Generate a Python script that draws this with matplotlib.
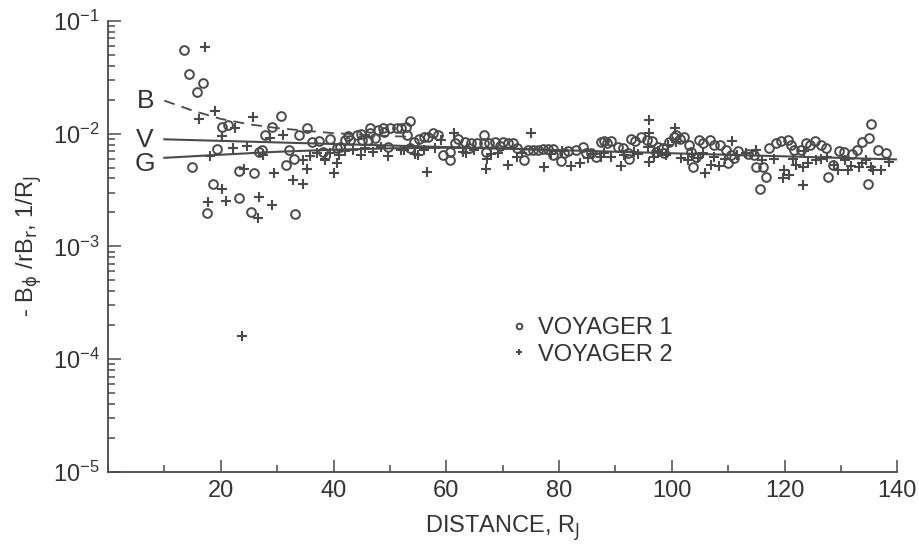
import matplotlib
matplotlib.use("Agg")
import matplotlib.pyplot as plt
from matplotlib.ticker import LogLocator, MultipleLocator, NullFormatter, FixedLocator

plt.rcParams["font.family"] = ["Liberation Sans", "DejaVu Sans"]

INK = "#4a4a4a"

# ---- Voyager 1 (open circles): distance R_J, -B_phi / r B_r ----
v1_x = [13.5, 14.4, 16.9, 15.8, 20.2, 21.3, 19.4, 14.9, 23.3, 25.9, 18.7, 23.3, 17.6, 25.4,
        33.2, 26.8, 27.9, 30.6, 29.1, 32.1, 31.6, 33.9, 35.3, 33.0, 36.2, 37.5, 39.3, 44.2,
        46.4, 48.8, 50.1, 51.2, 27.4, 41.2, 42.1, 43.0, 45.1, 46.2, 47.4, 38.2, 40.7, 46.5,
        52.8, 53.5, 53.1, 54.2, 55.1, 56.0, 56.8, 57.7, 59.5, 60.7, 60.7, 53.6, 62.0, 63.4,
        64.3, 65.5, 66.6, 66.6, 67.5, 68.7, 67.0, 70.0, 71.0, 49.6, 71.9, 73.7, 75.3, 76.2,
        77.1, 78.0, 78.9, 79.0, 80.3, 80.8, 84.2, 84.7, 85.6, 86.5, 87.4, 87.9, 89.2, 90.4,
        91.3, 92.2, 92.4, 92.7, 94.5, 95.6, 96.4, 97.5, 98.4, 98.6, 100.4, 100.7, 102.1,
        103.0, 103.4, 103.7, 104.8, 106.7, 108.5, 109.6, 110.5, 109.9, 111.0, 114.6, 114.9,
        116.7, 115.6, 117.2, 119.4, 120.6, 121.1, 121.7, 122.9, 123.8, 125.4, 126.5, 127.4,
        127.7, 128.6, 129.7, 132.0, 132.9, 133.7, 135.0, 135.3, 134.8, 138.0, 116.2, 97.2,
        104.3, 42.5, 44.8, 47.8, 49.0, 52.0, 58.5, 61.5, 64.0, 69.5, 72.5, 74.5, 81.5, 83.0,
        88.5, 93.5, 99.5, 101.5, 105.5, 107.5, 111.8, 113.5, 118.5, 124.5, 130.5, 136.5]
v1_y = [0.0553, 0.0340, 0.0282, 0.0236, 0.0115, 0.0118, 0.00736, 0.00511, 0.0047, 0.00443,
        0.00354, 0.00266, 0.00196, 0.0020, 0.00192, 0.00693, 0.0098, 0.0144, 0.0115, 0.00722,
        0.00532, 0.0098, 0.0113, 0.00601, 0.00849, 0.00867, 0.0090, 0.0098, 0.0111, 0.0113,
        0.0113, 0.0113, 0.00722, 0.00767, 0.00885, 0.00885, 0.00885, 0.00885, 0.0092,
        0.00693, 0.00752, 0.0102, 0.0115, 0.0130, 0.0098, 0.00849, 0.0090, 0.0094, 0.0094,
        0.0102, 0.00652, 0.00693, 0.00589, 0.00752, 0.0090, 0.00849, 0.00832, 0.00832,
        0.0098, 0.00832, 0.00832, 0.00849, 0.00693, 0.00849, 0.00832, 0.00767, 0.00832,
        0.00589, 0.00722, 0.00722, 0.00736, 0.00736, 0.00736, 0.00652, 0.00577, 0.00679,
        0.00767, 0.00679, 0.00679, 0.00625, 0.00849, 0.00867, 0.00867, 0.00767, 0.00752,
        0.00679, 0.00601, 0.0090, 0.0094, 0.00885, 0.00867, 0.00767, 0.00752, 0.00679,
        0.0094, 0.0098, 0.0094, 0.00799, 0.00693, 0.00511, 0.00885, 0.00885, 0.00799,
        0.00722, 0.00652, 0.00554, 0.00613, 0.00652, 0.00511, 0.00416, 0.00326, 0.00752,
        0.00867, 0.00885, 0.00799, 0.00722, 0.00722, 0.00832, 0.00867, 0.00799, 0.00752,
        0.00416, 0.00532, 0.00708, 0.00665, 0.00722, 0.00849, 0.0092, 0.0122, 0.00361,
        0.00679, 0.00511, 0.00693, 0.00625, 0.0096, 0.0100, 0.0108, 0.0104, 0.0112, 0.0097,
        0.0082, 0.0075, 0.0078, 0.0074, 0.0071, 0.0070, 0.0072, 0.0082, 0.0086, 0.0085,
        0.0090, 0.0082, 0.0079, 0.0070, 0.0066, 0.0082, 0.0080, 0.0069, 0.0071]

# ---- Voyager 2 (plus signs) ----
v2_x = [17.2, 16.2, 19.0, 20.2, 22.6, 22.2, 24.7, 25.8, 18.1, 24.2, 20.2, 17.8, 21.0, 26.8,
        29.1, 26.6, 23.8, 27.5, 29.5, 31.1, 32.9, 34.5, 35.3, 34.5, 37.1, 38.4, 40.1, 40.7,
        39.4, 41.0, 49.6, 28.8, 35.9, 38.5, 43.5, 44.8, 51.9, 54.9, 56.5, 61.3, 59.0, 62.9,
        67.3, 67.0, 69.1, 70.9, 75.0, 72.6, 77.3, 82.1, 83.7, 85.1, 87.4, 89.2, 90.9, 93.3,
        95.9, 95.9, 95.9, 100.5, 99.3, 95.7, 100.7, 96.8, 101.6, 102.8, 104.6, 105.5, 105.9,
        106.9, 108.3, 110.7, 113.1, 114.9, 118.1, 119.9, 119.7, 120.8, 122.0, 123.3, 123.4,
        124.2, 123.3, 126.5, 128.8, 129.5, 131.3, 131.8, 133.2, 135.3, 135.7, 137.1, 133.7,
        130.7, 54.5, 42.0, 45.5, 47.0, 48.5, 52.5, 56.0, 58.0, 63.5, 65.0, 68.0, 73.5, 78.5,
        80.5, 86.0, 88.0, 91.5, 94.0, 97.5, 99.0, 103.5, 107.5, 109.5, 111.5, 116.0, 121.5,
        125.5, 127.5, 134.5, 138.5]
v2_y = [0.0589, 0.0136, 0.0160, 0.0096, 0.0113, 0.00752, 0.00783, 0.0139, 0.00638, 0.0049,
        0.00326, 0.0025, 0.00255, 0.00272, 0.00235, 0.00177, 0.00016, 0.00652, 0.00443,
        0.0098, 0.00384, 0.00361, 0.0049, 0.00589, 0.00679, 0.00601, 0.00443, 0.00554,
        0.00679, 0.00652, 0.00638, 0.0092, 0.00638, 0.00589, 0.00722, 0.00652, 0.00722,
        0.00652, 0.00461, 0.0102, 0.00885, 0.00693, 0.00601, 0.0049, 0.00679, 0.00532,
        0.0102, 0.00625, 0.00511, 0.00521, 0.00554, 0.00613, 0.00625, 0.00625, 0.00521,
        0.00693, 0.0133, 0.0102, 0.00565, 0.0113, 0.00799, 0.00767, 0.00849, 0.00625,
        0.00613, 0.00589, 0.00613, 0.00679, 0.00443, 0.00532, 0.00521, 0.00867, 0.00679,
        0.00722, 0.00601, 0.0048, 0.00408, 0.00434, 0.00532, 0.00511, 0.00708, 0.00554,
        0.00347, 0.00601, 0.00532, 0.0048, 0.0048, 0.00521, 0.00511, 0.00511, 0.00471,
        0.0048, 0.00554, 0.00589, 0.00665, 0.0070, 0.0074, 0.0069, 0.0076, 0.0072, 0.0071,
        0.0075, 0.0068, 0.0072, 0.0066, 0.0068, 0.0066, 0.0070, 0.0066, 0.0068, 0.0064,
        0.0066, 0.0070, 0.0064, 0.0066, 0.0062, 0.0060, 0.0064, 0.0058, 0.0060, 0.0058,
        0.0062, 0.0058, 0.0056]

# ---- model curves B (dashed), V and G (solid) ----
b_x = [10, 15, 20, 25, 30, 35, 40, 45, 50, 53]
b_y = [0.0196, 0.0160, 0.0135, 0.0121, 0.0112, 0.0106, 0.0101, 0.0098, 0.0095, 0.0094]
v_x = [10, 140]
v_y = [0.0089, 0.0059]
g_x = [10, 20, 30, 40, 50, 60, 70, 80]
g_y = [0.0061, 0.0065, 0.0069, 0.0072, 0.0074, 0.0075, 0.0074, 0.00713]

curve_labels = ["B", "V", "G"]
curve_label_y = [0.0196, 0.0088, 0.0054]

x_ticks = [20, 40, 60, 80, 100, 120, 140]

fig = plt.figure(figsize=(9.19, 5.47), dpi=100)
ax = fig.add_axes([0.1175, 0.137, 0.859, 0.825])

ax.plot(b_x, b_y, ls=(0, (6, 4)), color=INK, lw=1.3)
ax.plot(v_x, v_y, color=INK, lw=1.5)
ax.plot(g_x, g_y, color=INK, lw=1.5)

ax.plot(v1_x, v1_y, ls="none", marker="o", ms=6.3, mfc="none", mec=INK, mew=1.4,
        label="VOYAGER 1")
ax.plot(v2_x, v2_y, ls="none", marker="+", ms=6.5, mec=INK, mew=1.5,
        label="VOYAGER 2")

for lab, yv in zip(curve_labels, curve_label_y):
    ax.text(6.6, yv, lab, fontsize=19, color="#333333", ha="center", va="center")

ax.set_yscale("log")
ax.set_ylim(1e-5, 1e-1)
ax.set_xlim(0, 140)
ax.yaxis.set_major_locator(LogLocator(base=10, numticks=10))
ax.yaxis.set_minor_locator(LogLocator(base=10, subs=range(2, 10), numticks=10))
ax.yaxis.set_minor_formatter(NullFormatter())
ax.xaxis.set_major_locator(FixedLocator(x_ticks))
ax.xaxis.set_minor_locator(MultipleLocator(10))

ax.spines[["top", "right"]].set_visible(False)
for s in ["left", "bottom"]:
    ax.spines[s].set_color(INK)
    ax.spines[s].set_linewidth(1.3)
ax.tick_params(which="both", direction="in", color=INK, width=1.1)
ax.tick_params(which="major", length=9, labelsize=17, labelcolor="#333333", pad=6)
ax.tick_params(which="minor", length=5)

ax.set_xlabel("DISTANCE, R$_\\mathrm{J}$", fontsize=17, color="#333333", labelpad=8)
ax.set_ylabel("- B$_\\mathrm{ϕ}$ /rB$_\\mathrm{r}$, 1/R$_\\mathrm{J}$", fontsize=17,
              color="#333333", labelpad=6)

ax.legend(loc="upper left", bbox_to_anchor=(0.497, 0.37), frameon=False, fontsize=17,
          handlelength=0.6, handletextpad=0.5, labelspacing=0.2, borderpad=0,
          markerscale=0.65, labelcolor="#333333")

fig.savefig("out.png", dpi=100)
